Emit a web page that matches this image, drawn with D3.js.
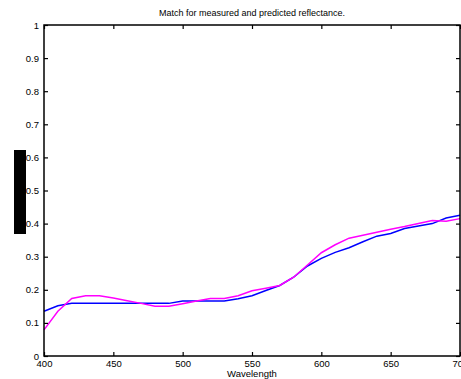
<!DOCTYPE html>
<html><head><meta charset="utf-8">
<script src="https://d3js.org/d3.v7.min.js"></script>
<style>body{margin:0;background:#fff}svg{display:block}text{font-family:"Liberation Sans",Arial,sans-serif;fill:#000}</style>
</head><body>
<script>
const wavelengths = d3.range(400, 701, 10);
const measured = [0.135,0.152,0.159,0.159,0.159,0.159,0.159,0.159,0.159,0.159,0.166,0.166,0.166,0.166,0.173,0.182,0.198,0.213,0.238,0.272,0.295,0.313,0.327,0.345,0.362,0.370,0.385,0.393,0.400,0.417,0.425];
const predicted = [0.079,0.135,0.174,0.182,0.182,0.175,0.167,0.159,0.150,0.150,0.158,0.166,0.174,0.174,0.182,0.197,0.205,0.213,0.238,0.275,0.312,0.336,0.356,0.365,0.374,0.383,0.391,0.400,0.409,0.407,0.415];
const xTicks = [400,450,500,550,600,650,700];
const yTicks = [0,0.1,0.2,0.3,0.4,0.5,0.6,0.7,0.8,0.9,1];

const W=461,H=379;
const L=44,R=460,T=25,B=356;
const svg=d3.select("body").append("svg").attr("width",W).attr("height",H);
const x=d3.scaleLinear().domain([400,700]).range([L,R]);
const y=d3.scaleLinear().domain([0,1]).range([B,T]);

const line=d3.line().x((d,i)=>x(wavelengths[i])).y(d=>y(d));
svg.append("path").datum(measured).attr("d",line).attr("fill","none").attr("stroke","#0000ff").attr("stroke-width",1.5);
svg.append("path").datum(predicted).attr("d",line).attr("fill","none").attr("stroke","#ff00ff").attr("stroke-width",1.5);

const fmt=d=>d===0?"0":(d===1?"1":d3.format(".1f")(d));
const axB=svg.append("g").attr("transform",`translate(0,${B})`).call(d3.axisBottom(x).tickValues(xTicks).tickSize(-4).tickPadding(4).tickFormat(d3.format("d")));
const axT=svg.append("g").attr("transform",`translate(0,${T})`).call(d3.axisTop(x).tickValues(xTicks).tickSize(-4).tickFormat(""));
const axL=svg.append("g").attr("transform",`translate(${L},0)`).call(d3.axisLeft(y).tickValues(yTicks).tickSize(-4).tickPadding(5).tickFormat(fmt));
const axR=svg.append("g").attr("transform",`translate(${R},0)`).call(d3.axisRight(y).tickValues(yTicks).tickSize(-4).tickFormat(""));
[axB,axT,axL,axR].forEach(g=>{
  g.select(".domain").remove();
  g.selectAll(".tick line").attr("stroke","#000").attr("stroke-width",1.2);
  g.selectAll("text").style("font-size","9.5px").style("font-family",'"Liberation Sans",Arial,sans-serif').attr("fill","#000");
});
svg.append("rect").attr("x",L).attr("y",T).attr("width",R-L).attr("height",B-T).attr("fill","none").attr("stroke","#000").attr("stroke-width",1.5);

svg.append("text").attr("x",(L+R)/2).attr("y",16).attr("text-anchor","middle").style("font-size","9px").text("Match for measured and predicted reflectance.");
svg.append("text").attr("x",(L+R)/2).attr("y",377).attr("text-anchor","middle").style("font-size","9.5px").text("Wavelength");
svg.append("rect").attr("x",14).attr("y",150).attr("width",12).attr("height",84).attr("fill","#000");
</script>
</body></html>
